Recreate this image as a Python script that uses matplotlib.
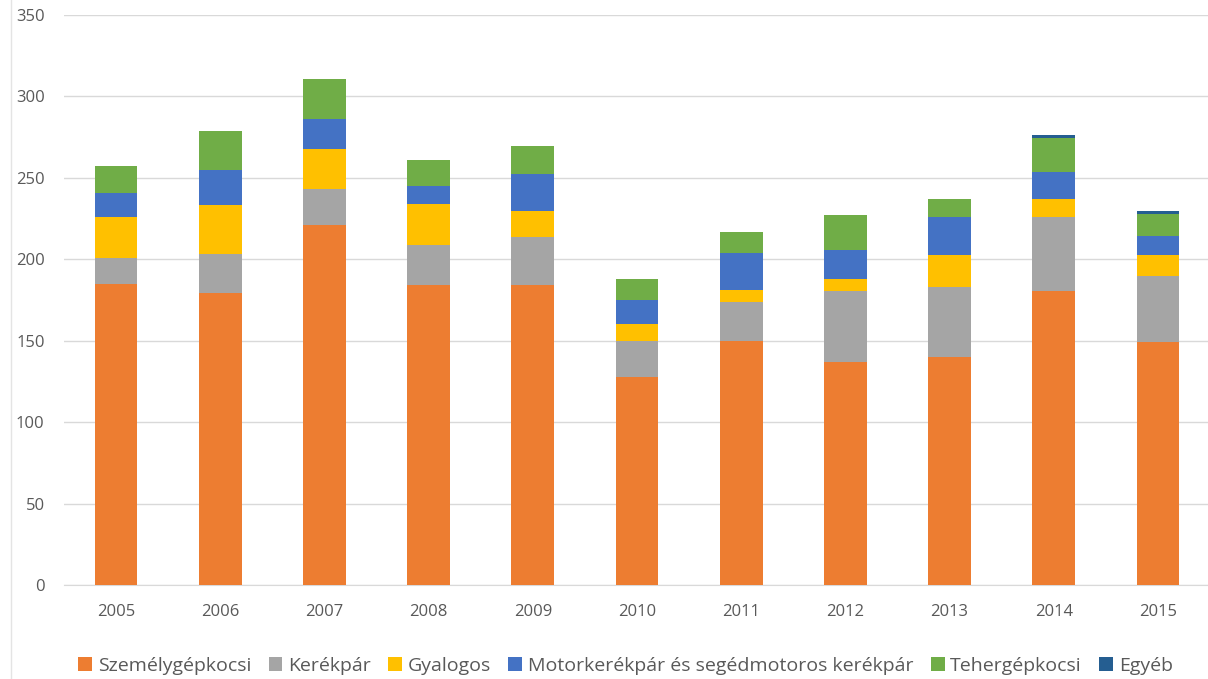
import numpy as np
import matplotlib.pyplot as plt

years = ['2005', '2006', '2007', '2008', '2009', '2010', '2011', '2012', '2013', '2014', '2015']
szemelygepkocsi = [185, 179.5, 221, 184, 184, 128, 150, 137, 140, 180.5, 149.5]
kerekpar = [16, 24, 22, 25, 29.5, 22, 24, 43.5, 43, 45.5, 40]
gyalogos = [25, 30, 25, 25, 16, 10, 7, 7.5, 19.5, 11, 13]
motorkerekpar = [15, 21.5, 18, 11, 23, 15, 23, 18, 23.5, 16.5, 12]
tehergepkocsi = [16, 24, 25, 16, 17, 13, 13, 21, 11, 21, 13.5]
egyeb = [0, 0, 0, 0, 0, 0, 0, 0, 0, 2, 1.5]

series = [
    ('Személygépkocsi', szemelygepkocsi, '#ED7D31'),
    ('Kerékpár', kerekpar, '#A5A5A5'),
    ('Gyalogos', gyalogos, '#FFC000'),
    ('Motorkerékpár és segédmotoros kerékpár', motorkerekpar, '#4472C4'),
    ('Tehergépkocsi', tehergepkocsi, '#70AD47'),
    ('Egyéb', egyeb, '#255E91'),
]

plt.rcParams['font.family'] = ['Open Sans', 'DejaVu Sans']

fig = plt.figure(figsize=(12.08, 6.79), dpi=100)
ax = fig.add_axes([0.053, 0.1384, 0.9487, 0.8395])

x = np.arange(len(years))
bottom = np.zeros(len(years))
for name, vals, color in series:
    vals = np.array(vals, dtype=float)
    ax.bar(x, vals, width=0.41, bottom=bottom, color=color, label=name, zorder=3)
    bottom += vals

ax.set_xlim(-0.5, len(years) - 0.5)
ax.set_ylim(0, 350)
ax.set_yticks(np.arange(0, 351, 50))
ax.set_xticks(x)
ax.set_xticklabels(years)
ax.grid(axis='y', color='#D9D9D9', linewidth=1, zorder=0)
for side in ['top', 'right', 'left']:
    ax.spines[side].set_visible(False)
ax.spines['bottom'].set_color('#D9D9D9')
ax.tick_params(axis='both', length=0, colors='#595959', labelsize=12)
ax.tick_params(axis='x', pad=14)
ax.tick_params(axis='y', pad=14)

# faint border line at the left edge of the original image
fig.add_artist(plt.Line2D([0.009, 0.009], [0.0, 1.0], color='#E4E4E4', linewidth=1))

ax.legend(loc='upper center', bbox_to_anchor=(0.49, -0.095), ncol=6, frameon=False,
          fontsize=14, handlelength=0.7, handleheight=0.7, handletextpad=0.3,
          columnspacing=0.9, labelcolor='#595959')

fig.savefig('out.png', dpi=100)
